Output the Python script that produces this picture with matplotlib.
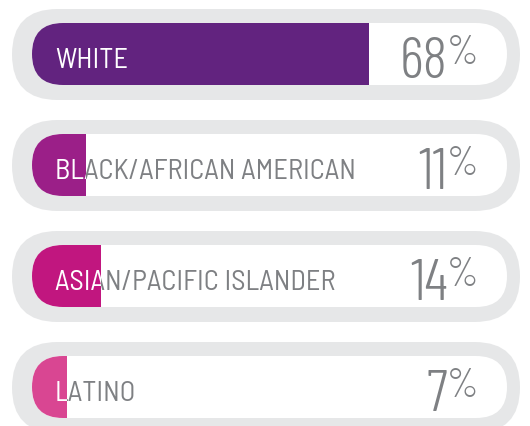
import matplotlib
matplotlib.use("Agg")
import matplotlib.pyplot as plt
from matplotlib.patches import FancyBboxPatch, Rectangle
from matplotlib.transforms import Bbox, TransformedBbox

# ---- data ----
categories = ["WHITE", "BLACK/AFRICAN AMERICAN", "ASIAN/PACIFIC ISLANDER", "LATINO"]
values = [68, 11, 14, 7]
value_labels = ["68", "11", "14", "7"]
colors = ["#62237f", "#9b1f88", "#c1167f", "#d94692"]

# ---- layout (pixels) ----
W, H = 530, 427
OUT_L, OUT_R = 12, 520
IN_L, IN_R = 32, 507
ROW0, PITCH = 10, 111
OUT_H, IN_OFF, IN_H = 91, 14, 62
PX_PER_PCT = 4.95
GRAY = "#e6e7e8"
TXT = "#7e8083"
LABEL_FONT = "Barlow Semi Condensed"
NUM_FONT = "Barlow Condensed"

fig = plt.figure(figsize=(W / 100, H / 100), dpi=100)
ax = fig.add_axes([0, 0, 1, 1])
ax.set_xlim(0, W)
ax.set_ylim(H, 0)
ax.axis("off")
renderer = fig.canvas.get_renderer()

for i, (cat, val, lab, col) in enumerate(zip(categories, values, value_labels, colors)):
    top = ROW0 + i * PITCH
    r_out = OUT_H / 2
    outer = FancyBboxPatch((OUT_L, top), OUT_R - OUT_L, OUT_H,
                           boxstyle=f"round,pad=0,rounding_size={r_out}",
                           fc=GRAY, ec="none")
    ax.add_patch(outer)
    itop = top + IN_OFF
    r_in = IN_H / 2
    inner = FancyBboxPatch((IN_L, itop), IN_R - IN_L, IN_H,
                           boxstyle=f"round,pad=0,rounding_size={r_in}",
                           fc="white", ec="none")
    ax.add_patch(inner)
    fill_w = val * PX_PER_PCT
    fill = Rectangle((IN_L, itop), fill_w, IN_H, fc=col, ec="none")
    ax.add_patch(fill)
    fill.set_clip_path(inner)

    cy = itop + IN_H / 2
    x_split = IN_L + fill_w
    # gray part of label (right of the fill)
    gt = ax.text(55, cy + 13, cat, fontsize=20.5, family=LABEL_FONT, fontweight=400,
                 color=TXT, ha="left", va="baseline")
    gt.set_clip_box(TransformedBbox(Bbox.from_extents(x_split, itop, W, itop + IN_H), ax.transData))
    gt.set_clip_on(True)
    # white part of label (over the fill)
    wt = ax.text(55, cy + 13, cat, fontsize=20.5, family=LABEL_FONT, fontweight=400,
                 color="white", ha="left", va="baseline")
    wt.set_clip_box(TransformedBbox(Bbox.from_extents(0, itop, x_split, itop + IN_H), ax.transData))
    wt.set_clip_on(True)

    # percentage
    base = cy + 23
    pct = ax.text(478, base - 14, "%", fontsize=29, family=NUM_FONT, fontweight=300,
                  color=TXT, ha="right", va="baseline")
    bb = pct.get_window_extent(renderer)
    x_left = ax.transData.inverted().transform((bb.x0, 0))[0]
    ax.text(x_left + 1, base, lab, fontsize=42, family=NUM_FONT, fontweight=300,
            color=TXT, ha="right", va="baseline")

fig.savefig("out.png", dpi=100)
